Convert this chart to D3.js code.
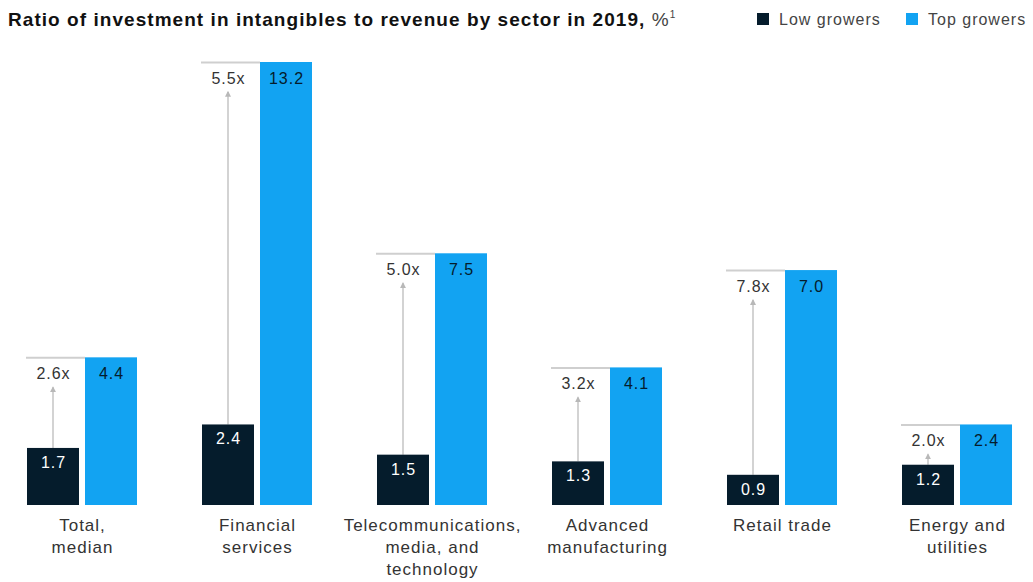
<!DOCTYPE html>
<html>
<head>
<meta charset="utf-8">
<script src="https://cdn.jsdelivr.net/npm/d3@7"></script>
<style>
  html, body { margin: 0; padding: 0; background: #fff; }
  svg { display: block; font-family: "Liberation Sans", Arial, sans-serif; }
</style>
</head>
<body>
<svg id="chart" width="1033" height="582"></svg>
<script>
// Intangibles investment as share of revenue, 2019 (%)
const sectors = [
  ["Total,", "median"],
  ["Financial", "services"],
  ["Telecommunications,", "media, and", "technology"],
  ["Advanced", "manufacturing"],
  ["Retail trade"],
  ["Energy and", "utilities"]
];
const lowGrowers = [1.7, 2.4, 1.5, 1.3, 0.9, 1.2];
const topGrowers = [4.4, 13.2, 7.5, 4.1, 7.0, 2.4];
const multiples = ["2.6x", "5.5x", "5.0x", "3.2x", "7.8x", "2.0x"];
const seriesNames = ["Low growers", "Top growers"];

const DARK = "#051c2c";
const BLUE = "#12a3f2";

const svg = d3.select("#chart");
const baseY = 505, topY = 62;

const y = d3.scaleLinear().domain([0, 13.2]).range([baseY, topY]);
// each group: dark bar, gap, blue bar
const groupStep = 175, barW = 52, gap = 6;
const gx = d3.scaleLinear().domain([0, 1]).range([27, 27 + groupStep]);

// Title
svg.append("text")
  .attr("x", 8).attr("y", 26)
  .attr("font-size", 19).attr("font-weight", 700).attr("fill", "#111")
  .attr("letter-spacing", 1.05)
  .text("Ratio of investment in intangibles to revenue by sector in 2019, ")
  .append("tspan").attr("font-weight", 400).attr("fill", "#444").text("%")
  .append("tspan").attr("font-size", 10).attr("dy", -8).attr("letter-spacing", 0).text("1");

// Legend
const legend = svg.append("g").attr("font-size", 16).attr("letter-spacing", 1);
const legendItems = [{name: seriesNames[0], color: DARK, x: 757}, {name: seriesNames[1], color: BLUE, x: 906}];
legendItems.forEach(d => {
  legend.append("rect").attr("x", d.x).attr("y", 13).attr("width", 12).attr("height", 12).attr("fill", d.color);
  legend.append("text").attr("x", d.x + 22).attr("y", 25).attr("fill", "#444").text(d.name);
});

const defs = svg.append("defs");
defs.append("marker").attr("id", "arrow").attr("viewBox", "0 0 10 10")
  .attr("refX", 8).attr("refY", 5).attr("markerWidth", 6).attr("markerHeight", 6)
  .attr("markerUnits", "userSpaceOnUse").attr("orient", "auto")
  .append("path").attr("d", "M0,0 L10,5 L0,10 z").attr("fill", "#b8b8b8");

const groups = svg.selectAll("g.sector").data(sectors).join("g").attr("class", "sector")
  .attr("transform", (d, i) => `translate(${gx(i)},0)`);

// reference line at the top-grower level
groups.append("line")
  .attr("x1", -1).attr("x2", barW + gap)
  .attr("y1", (d, i) => y(topGrowers[i]) + 0.5).attr("y2", (d, i) => y(topGrowers[i]) + 0.5)
  .attr("stroke", "#cfcfcf").attr("stroke-width", 2);

// arrow from low-grower bar up toward multiple label
groups.append("line")
  .attr("x1", barW / 2).attr("x2", barW / 2)
  .attr("y1", (d, i) => y(lowGrowers[i]))
  .attr("y2", (d, i) => y(topGrowers[i]) + 30)
  .attr("stroke", "#c4c4c4").attr("stroke-width", 1.5)
  .attr("marker-end", "url(#arrow)");

groups.append("text")
  .attr("x", barW / 2 + 0.5).attr("y", (d, i) => y(topGrowers[i]) + 22)
  .attr("text-anchor", "middle").attr("font-size", 16).attr("letter-spacing", 1).attr("fill", "#333")
  .text((d, i) => multiples[i]);

// bars
groups.append("rect")
  .attr("x", 0).attr("width", barW)
  .attr("y", (d, i) => y(lowGrowers[i])).attr("height", (d, i) => baseY - y(lowGrowers[i]))
  .attr("fill", DARK);
groups.append("rect")
  .attr("x", barW + gap).attr("width", barW)
  .attr("y", (d, i) => y(topGrowers[i])).attr("height", (d, i) => baseY - y(topGrowers[i]))
  .attr("fill", BLUE);

// value labels
groups.append("text")
  .attr("x", barW / 2 + 0.5).attr("y", (d, i) => y(lowGrowers[i]) + 20)
  .attr("text-anchor", "middle").attr("font-size", 16).attr("letter-spacing", 1).attr("fill", "#fff")
  .text((d, i) => d3.format(".1f")(lowGrowers[i]));
groups.append("text")
  .attr("x", barW + gap + barW / 2 + 0.5).attr("y", (d, i) => y(topGrowers[i]) + 22)
  .attr("text-anchor", "middle").attr("font-size", 16).attr("letter-spacing", 1).attr("fill", DARK)
  .text((d, i) => d3.format(".1f")(topGrowers[i]));

// category labels
groups.append("text")
  .attr("x", barW + gap / 2 + 0.5).attr("y", 531)
  .attr("text-anchor", "middle").attr("font-size", 17).attr("letter-spacing", 1).attr("fill", "#333")
  .selectAll("tspan").data(d => d).join("tspan")
  .attr("x", barW + gap / 2 + 0.5).attr("dy", (d, j) => j === 0 ? 0 : 22)
  .text(d => d);
</script>
</body>
</html>
